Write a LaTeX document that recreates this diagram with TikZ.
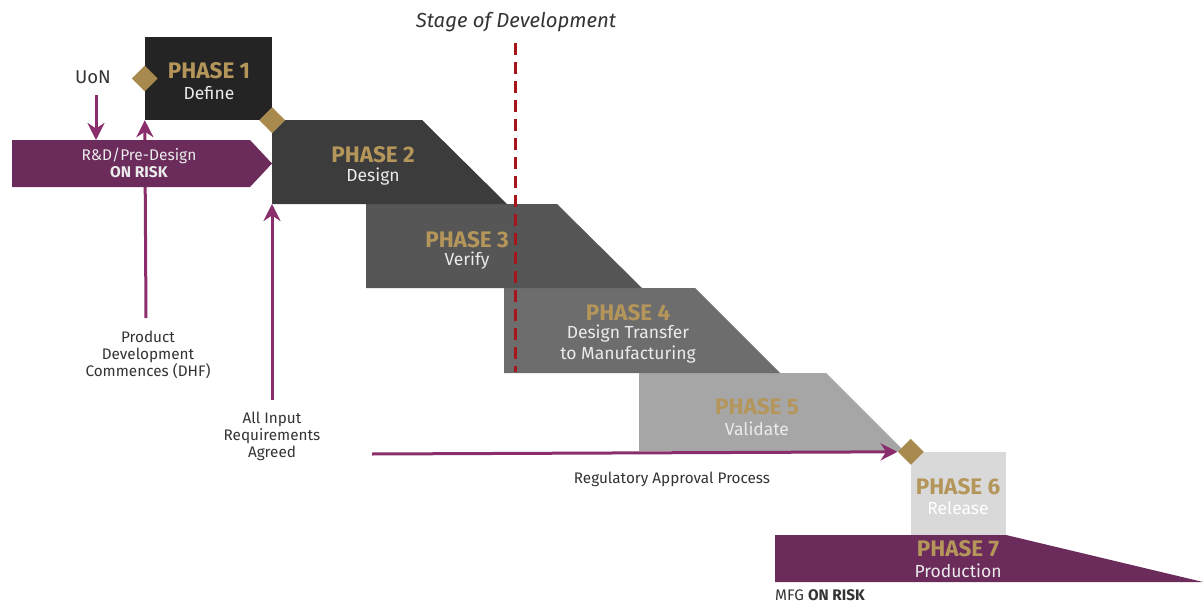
\documentclass[tikz,border=0pt]{standalone}
\usepackage{fontspec}
\setmainfont{Fira Sans}
\usepackage{tikz}
\usetikzlibrary{shapes.geometric, arrows.meta}

\definecolor{phaseone}{HTML}{242424}
\definecolor{phasetwo}{HTML}{3C3C3C}
\definecolor{phasethree}{HTML}{565656}
\definecolor{phasefour}{HTML}{6D6D6D}
\definecolor{phasefive}{HTML}{A6A6A6}
\definecolor{phasesix}{HTML}{D9D9D9}
\definecolor{plum}{HTML}{6B2C5C}
\definecolor{plumarrow}{HTML}{8A2D6C}
\definecolor{gold}{HTML}{B4965A}
\definecolor{goldgem}{HTML}{A8894E}
\definecolor{stagered}{HTML}{A8141C}
\definecolor{ink}{HTML}{333333}

\begin{document}
\begin{tikzpicture}[x=1pt, y=-1pt]
\tikzstyle{every node}+=[inner sep=0pt]
\tikzstyle{phasehead}=[text=gold, font=\bfseries\fontsize{22.5}{22}\selectfont]
\tikzstyle{phasesub}=[text=white!92!black, font=\fontsize{17.5}{20.5}\selectfont, align=center]
\tikzstyle{note}=[text=ink, font=\fontsize{15.3}{17}\selectfont, align=center]
\tikzstyle{flow}=[draw=plumarrow, line width=3pt, -{Stealth[length=17pt, width=17pt]}]
\tikzstyle{gem}=[diamond, fill=goldgem, minimum size=26pt]
\useasboundingbox (0,0) rectangle (1203,605);
\fill [plum] (775,535) -- (1006,535) -- (1203,582) -- (775,582) -- cycle;
\fill [phasefive] (639,373) -- (826,373) -- (904,451) -- (639,451) -- cycle;
\fill [phasefour] (504,288) -- (695,288) -- (780,373) -- (504,373) -- cycle;
\fill [phasethree] (366,204) -- (557,204) -- (642,288) -- (366,288) -- cycle;
\fill [phasetwo] (272,120) -- (422,120) -- (507,204) -- (272,204) -- cycle;
\node [fill=phaseone, minimum width=127pt, minimum height=83pt] (ph1) at (208.5,78.5) {};
\node [fill=phasesix, minimum width=95pt, minimum height=83pt] (ph6) at (958.5,493.5) {};
\coordinate (dhffoot) at (146,318);
\draw [flow] (dhffoot) -- (ph1.south west);
\fill [plum] (12,140) -- (250,140) -- (272,163.5) -- (250,187) -- (12,187) -- cycle;
\draw [stagered, line width=3pt, dash pattern=on 12pt off 7pt] (515,43) -- (515,372);
\node [gem] (d1) at (ph1.west) {};
\node [gem] (d2) at (ph1.south east) {};
\node [gem] (d3) at (ph6.north west) {};
\node [text=ink, font=\itshape\fontsize{20.3}{20}\selectfont] (stage) at (516,22) {Stage of Development};
\node [text=ink, font=\fontsize{18.5}{18}\selectfont] (uon) at (93,77) {UoN};
\node [text=white!92!black, font=\fontsize{15.5}{17}\selectfont, align=center] (rnd) at (139,163) {R\&D/Pre-Design\\\textbf{ON RISK}};
\node [phasehead] (h1) at (209,71) {PHASE 1};
\node [phasesub] (s1) at (209,93) {Define};
\node [phasehead] (h2) at (373,155) {PHASE 2};
\node [phasesub] (s2) at (373,177) {Design};
\node [phasehead] (h3) at (467,240) {PHASE 3};
\node [phasesub] (s3) at (467,261) {Verify};
\node [phasehead] (h4) at (628,313) {PHASE 4};
\node [phasesub] (s4) at (628,344) {Design Transfer\\to Manufacturing};
\node [phasehead] (h5) at (757,407) {PHASE 5};
\node [phasesub] (s5) at (757,429) {Validate};
\node [phasehead] (h6) at (958,487) {PHASE 6};
\node [phasesub, text=white] (s6) at (958,508) {Release};
\node [phasehead] (h7) at (958,549) {PHASE 7};
\node [phasesub] (s7) at (958,571) {Production};
\node [note] (dhf) at (148,355) {Product\\Development\\Commences (DHF)};
\node [note] (agreed) at (272,436) {All Input\\Requirements\\Agreed};
\node [note] (reg) at (672,479) {Regulatory Approval Process};
\node [note, anchor=west] (mfg) at (775,595) {MFG \textbf{ON RISK}};
\coordinate (uonfoot) at (96,95);
\coordinate (rndtop) at (96,140);
\draw [flow] (uonfoot) -- (rndtop);
\coordinate (agreedfoot) at (272,400);
\coordinate (ph2foot) at (272,204);
\draw [flow] (agreedfoot) -- (ph2foot);
\coordinate (regstart) at (372,454);
\draw [flow] (regstart) -- (d3.west);
\end{tikzpicture}
\end{document}
